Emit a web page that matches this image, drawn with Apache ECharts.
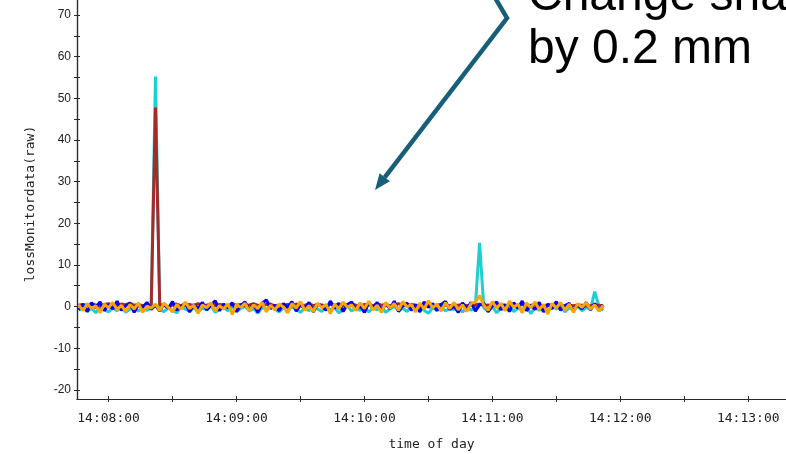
<!DOCTYPE html>
<html>
<head>
<meta charset="utf-8">
<script src="https://cdn.jsdelivr.net/npm/echarts@6/dist/echarts.min.js"></script>
<style>
html,body{margin:0;padding:0;background:#fff;}
#chart{width:786px;height:454px;}
</style>
</head>
<body>
<div id="chart"></div>
<script>
// ---- data ----
const sampleStart = '14:07:46';
const sampleStepSec = 2;

const cyanValues = [
  -0.9, -0.2, -1.2, -0.4, -1.5, -0.1, -0.8, -1.3, -0.3, -1.0,
  0.1, -1.4, -0.6, -0.2, -1.1, -0.4, -0.9, -0.3, 55.2, -0.7,
  -1.2, -0.3, -0.9, -1.5, 0.0, -0.6, -1.1, -0.2, -1.3, -0.4,
  -0.8, 0.2, -1.4, -0.7, -0.3, -1.0, 0.0, -1.2, -0.5, 0.1,
  -1.1, -0.4, -1.6, -0.2, -0.8, 0.3, -0.6, -1.3, -0.3, -0.9,
  0.0, -0.7, -1.4, -0.4, -1.0, 0.1, -0.6, -1.2, -0.2, -0.8,
  -0.3, -1.5, -0.7, 0.2, -1.1, -0.4, -0.9, -0.1, -1.3, -0.3,
  -0.8, 0.1, -1.4, -0.6, 0.0, -1.0, -0.4, -1.2, -0.1, -0.7,
  0.2, -0.9, -1.6, -0.3, -0.8, 0.1, -1.1, -0.4, -0.7, 0.0,
  -1.3, -0.2, -0.9, -0.1, 15.3, -0.4, -1.0, 0.0, -1.5, -0.3,
  -0.8, 0.2, -1.2, -0.4, -0.7, 0.1, -1.7, -0.2, -0.9, -0.1,
  -1.1, 0.0, -0.6, 0.2, -1.3, -0.3, -0.8, 0.1, -1.0, -0.2,
  -0.7, 3.6, 0.0, -0.9
];

const brownValues = [
  0.3, 0.5, 0.2, 0.6, 0.4, 0.1, 0.5, 0.7, 0.3, 0.2,
  0.6, 0.4, 0.8, 0.3, 0.5, 0.2, 0.4, 0.3, 47.8, 0.5,
  0.2, -0.2, 0.4, 0.6, 0.1, 0.3, 0.5, 0.2, 0.7, 0.4,
  0.3, 0.6, 0.2, 0.5, 0.4, 0.1, 0.6, 0.3, 0.5, 0.2,
  0.4, 0.7, 0.3, 0.2, 0.5, 0.6, 0.1, 0.4, 0.3, 0.5,
  0.2, 0.6, 0.4, 0.3, 0.7, 0.2, 0.5, 0.4, 0.1, 0.6,
  0.3, 0.5, 0.2, 0.4, 0.6, 0.3, 0.1, 0.5, 0.4, 0.2,
  0.6, 0.3, 0.5, 0.2, 0.4, 0.7, 0.3, 0.2, 0.5, 0.4,
  0.1, 0.3, 0.6, 0.2, 0.4, 0.5, 0.3, 0.2, 0.4, 0.3,
  0.5, 0.2, 0.4, 0.3, 0.6, 0.2, 0.4, 0.1, 0.3, 0.5,
  0.2, 0.4, 0.3, 0.1, 0.5, 0.2, 0.3, 0.4, 0.2, 0.1,
  0.3, 0.5, 0.2, 0.4, 0.1, 0.3, 0.2, 0.4, 0.3, 0.1,
  0.2, 0.4, 0.3, 0.2
];

const blueValues = [
  -0.8, 0.6, -1.2, 0.9, -0.3, 1.1, -1.0, 0.4, -0.6, 1.3,
  -0.9, 0.2, 0.8, -1.4, 0.5, -0.2, 1.0, -0.7, 0.3, -1.1,
  0.7, -0.4, 1.2, -0.9, 0.1, 0.8, -1.3, 0.5, -0.5, 1.0,
  -0.8, 0.3, 1.4, -1.0, 0.6, -0.3, 0.9, -1.2, 0.2, 1.1,
  -0.7, 0.5, -1.4, 0.8, 1.6, -0.5, 0.3, -1.0, 0.7, -0.2,
  1.2, -1.1, 0.4, -0.6, 1.0, -1.3, 0.6, 0.1, -0.9, 1.3,
  -0.4, 0.8, -1.2, 0.5, 1.1, -0.8, 0.2, -1.4, 0.9, -0.3,
  1.0, -1.0, 0.6, -0.5, 1.3, -1.2, 0.3, 0.8, -0.9, 0.4,
  -1.3, 1.1, -0.2, 0.7, -1.0, 0.5, 1.2, -0.7, 0.1, -1.4,
  0.9, -0.6, 1.0, -1.1, 0.4, 0.8, -1.3, 0.2, 1.1, -0.8,
  0.5, -1.2, 0.9, -0.4, 1.3, -1.0, 0.3, -0.7, 1.0, -1.3,
  0.6, -0.5, 1.2, -0.9, 0.2, 0.8, -1.1, 0.4, -0.6, 1.0,
  -0.8, 0.7, -1.0, 0.3
];

const orangeValues = [
  0.4, -1.0, 0.7, -0.5, 0.2, -1.5, 0.6, -0.3, 1.0, -0.8,
  0.3, -1.2, 0.5, -0.6, 0.9, -1.4, 0.1, -0.4, 0.6, -1.0,
  0.8, -0.2, -1.3, 0.5, -0.7, 1.1, -0.5, 0.3, -1.6, 0.4,
  -0.3, 0.9, -1.1, 0.2, -0.6, 0.7, -1.9, 0.5, -0.2, 0.8,
  -1.0, 0.4, -0.5, 1.0, -1.3, 0.3, -0.8, 0.6, -0.1, -1.5,
  0.7, -0.4, 1.2, -0.9, 0.2, -1.2, 0.8, -0.3, 0.5, -1.7,
  0.6, -0.6, 1.1, -0.2, 0.4, -1.0, 0.9, -0.5, 1.3, -0.8,
  0.3, -1.4, 1.0, -0.4, 0.7, -0.9, 1.2, -0.1, 0.5, -1.3,
  0.8, -0.6, 1.4, -0.3, 0.6, -1.1, 0.9, -0.5, 1.0, -0.8,
  0.4, -1.2, 0.7, 1.1, 2.6, 0.3, -0.9, 1.2, -0.4, 0.8,
  -1.0, 1.3, -0.2, 0.6, -1.5, 0.9, -0.3, 1.1, -0.7, 0.5,
  -1.8, 0.8, -0.4, 1.0, -0.9, 0.6, -1.4, 0.7, -0.2, 0.9,
  -0.6, 0.4, -1.1, 0.3
];

const xTickTimes = ['14:08:00','14:08:30','14:09:00','14:09:30','14:10:00','14:10:30',
                    '14:11:00','14:11:30','14:12:00','14:12:30','14:13:00'];
const xLabelTimes = ['14:08:00','14:09:00','14:10:00','14:11:00','14:12:00','14:13:00'];
const yTickValues = [-20,-15,-10,-5,0,5,10,15,20,25,30,35,40,45,50,55,60,65,70];
const yLabelValues = [-20,-10,0,10,20,30,40,50,60,70];
const xRange = ['14:07:45.2', '14:13:17.7'];
const yRange = [-22.2, 73.6];

// ---- helpers ----
function toSec(s){ const p = s.split(':').map(Number); return p[0]*3600 + p[1]*60 + p[2]; }
function fmt(v){
  const t = Math.round(v);
  const h = Math.floor(t/3600), m = Math.floor((t%3600)/60), s = t%60;
  const z = n => (n<10?'0':'')+n;
  return z(h)+':'+z(m)+':'+z(s);
}
const t0 = toSec(sampleStart);
function pairs(vals){ return vals.map((v,i)=>[t0 + i*sampleStepSec, v]); }

const axisColor = '#2a2a2a';
const monoFont = 'DejaVu Sans Mono';

const xBase = {
  type:'value', min: toSec(xRange[0]), max: toSec(xRange[1]),
  splitLine:{show:false},
  axisLine:{show:true, onZero:false, lineStyle:{color:axisColor, width:1.2}}
};
const yBase = {
  type:'value', min: yRange[0], max: yRange[1],
  splitLine:{show:false},
  axisLine:{show:true, onZero:false, lineStyle:{color:axisColor, width:1.2}}
};

const chart = echarts.init(document.getElementById('chart'), null, {renderer:'canvas'});

function lineSeries(name, vals, color, z){
  return {
    name, type:'line', data: pairs(vals), showSymbol:false, symbol:'none',
    lineStyle:{color, width:3}, itemStyle:{color}, z, animation:false,
    xAxisIndex:0, yAxisIndex:0
  };
}

// arrow geometry (annotation, pixel space)
const tip = [375, 190], corner = [507, 18];
const dx = tip[0]-corner[0], dy = tip[1]-corner[1], L = Math.hypot(dx,dy);
const ux = dx/L, uy = dy/L, headLen = 16, headHalf = 6.5;
const bx = tip[0]-ux*headLen, by = tip[1]-uy*headLen;
const arrowColor = '#175f79';

chart.setOption({
  animation:false,
  backgroundColor:'#ffffff',
  grid:{left:77, right:0, top:0, bottom:55, containLabel:false, outerBoundsMode:'none'},
  xAxis:[
    Object.assign({}, xBase, {
      position:'bottom',
      name:'time of day', nameLocation:'middle', nameGap:39,
      nameTextStyle:{fontFamily:monoFont, fontSize:13, color:'#222'},
      axisTick:{show:true, inside:false, length:3, lineStyle:{color:axisColor}, customValues: xTickTimes.map(toSec)},
      axisLabel:{show:true, margin:13, fontFamily:monoFont, fontSize:13, color:'#222',
                 customValues: xLabelTimes.map(toSec), formatter: v => fmt(v)}
    }),
    Object.assign({}, xBase, {
      position:'bottom',
      axisTick:{show:true, inside:true, length:3, lineStyle:{color:axisColor}, customValues: xTickTimes.map(toSec)},
      axisLabel:{show:false}
    })
  ],
  yAxis:[
    Object.assign({}, yBase, {
      position:'left',
      axisTick:{show:true, inside:false, length:3, lineStyle:{color:axisColor}, customValues: yTickValues},
      axisLabel:{show:true, margin:6, fontFamily:'Liberation Sans', fontSize:12, color:'#222',
                 customValues: yLabelValues}
    }),
    Object.assign({}, yBase, {
      position:'left',
      axisTick:{show:true, inside:true, length:3, lineStyle:{color:axisColor}, customValues: yTickValues},
      axisLabel:{show:false}
    })
  ],
  series:[
    lineSeries('cyan', cyanValues, '#1bcfd2', 2),
    lineSeries('brown', brownValues, '#a52a2a', 3),
    lineSeries('blue', blueValues, '#0000ff', 4),
    lineSeries('orange', orangeValues, '#ffa500', 5)
  ],
  graphic:[
    {type:'text', x:31, y:204, rotation:Math.PI/2,
     style:{text:'lossMonitordata(raw)', fontFamily:monoFont, fontSize:13, fill:'#222',
            align:'center', verticalAlign:'middle'}},
    {type:'text', x:528, y:-27,
     style:{text:'Change sha', fontFamily:'Liberation Sans', fontSize:48, fill:'#000',
            align:'left', verticalAlign:'top'}},
    {type:'text', x:528, y:26,
     style:{text:'by 0.2 mm', fontFamily:'Liberation Sans', fontSize:48, fill:'#000',
            align:'left', verticalAlign:'top'}},
    {type:'polyline', shape:{points:[[494,-4],[507,18],[bx,by]]},
     style:{stroke:arrowColor, lineWidth:4.5, fill:null, lineJoin:'miter'}},
    {type:'polygon', shape:{points:[tip,
        [bx + uy*headHalf, by - ux*headHalf],
        [bx - uy*headHalf, by + ux*headHalf]]},
     style:{fill:arrowColor}}
  ]
});
</script>
</body>
</html>
